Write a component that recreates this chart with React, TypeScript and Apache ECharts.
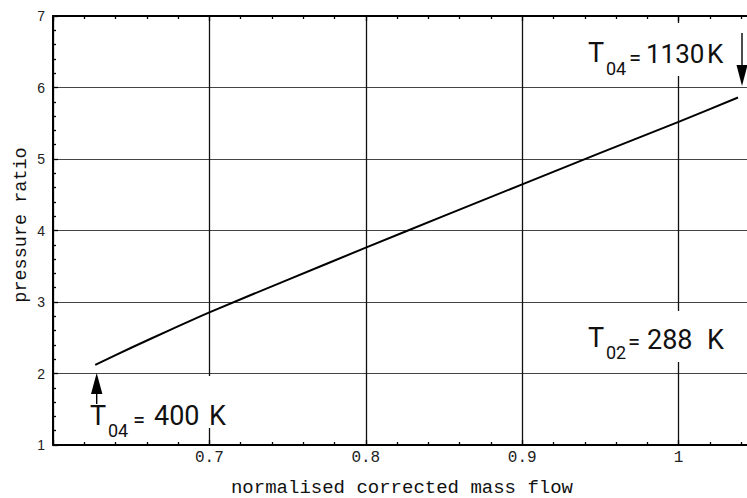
import React, { useEffect, useRef } from "react";
import * as echarts from "echarts";

// Curve: normalised corrected mass flow vs pressure ratio
const massFlow = [0.627, 0.65, 0.675, 0.7, 0.75, 0.8, 0.85, 0.9, 0.95, 1.0, 1.038];
const pressureRatio = [2.12, 2.36, 2.61, 2.855, 3.31, 3.76, 4.205, 4.645, 5.085, 5.52, 5.86];

const xTickValues = [0.7, 0.8, 0.9, 1.0];
const xTickLabels = ["0.7", "0.8", "0.9", "1"];
const yTickValues = [1, 2, 3, 4, 5, 6, 7];
const yTickLabels = ["1", "2", "3", "4", "5", "6", "7"];

const xTitle = "normalised corrected mass flow";
const yTitle = "pressure ratio";

const MONO = "'Liberation Mono', 'DejaVu Sans Mono', monospace";
const SANS = "'Liberation Sans', Arial, sans-serif";
const ANN = "Roboto, 'Liberation Sans', sans-serif";

function lookup(v: number, vals: number[], labels: string[]) {
  for (let i = 0; i < vals.length; i++) {
    if (Math.abs(v - vals[i]) < 1e-6) return labels[i];
  }
  return "";
}

function annText(x: number, y: number, text: string, size: number) {
  return {
    type: "text",
    x,
    y,
    z: 11,
    style: {
      text,
      fontFamily: ANN,
      fontSize: size,
      fill: "#111",
      align: "left",
      verticalAlign: "middle",
    },
  };
}

function whiteBox(x: number, y: number, w: number, h: number) {
  return {
    type: "rect",
    z: 10,
    shape: { x, y, width: w, height: h },
    style: { fill: "#fff" },
  };
}

export default function App() {
  const ref = useRef<HTMLDivElement>(null);
  useEffect(() => {
    if (!ref.current) return;
    const chart = echarts.init(ref.current, undefined, { renderer: "svg" });
    const data = massFlow.map((x, i) => [x, pressureRatio[i]]);
    const axisLine = { show: true, onZero: false, lineStyle: { color: "#000", width: 2 } };
    const axisTick = { show: true, inside: true, length: 5, lineStyle: { color: "#000", width: 1.3 } };
    const minorTick = { show: true, splitNumber: 5, length: 3, lineStyle: { color: "#000", width: 1.3 } };
    const option: any = {
      animation: false,
      backgroundColor: "#fff",
      grid: { left: 53, top: 16, width: 782, height: 429 },
      xAxis: [
        {
          type: "value",
          position: "bottom",
          min: 0.6,
          max: 1.1,
          interval: 0.1,
          axisLine,
          axisTick,
          minorTick,
          axisLabel: {
            margin: 5,
            fontFamily: MONO,
            fontSize: 16,
            color: "#222",
            formatter: (v: number) => lookup(v, xTickValues, xTickLabels),
          },
          splitLine: { show: true, lineStyle: { color: "#111", width: 1.3 } },
        },
        {
          type: "value",
          position: "top",
          min: 0.6,
          max: 1.1,
          interval: 0.1,
          axisLine,
          axisTick,
          minorTick,
          axisLabel: { show: false },
          splitLine: { show: false },
        },
      ],
      yAxis: {
        type: "value",
        min: 1,
        max: 7,
        interval: 1,
        axisLine,
        axisTick,
        minorTick,
        axisLabel: {
          margin: 8,
          fontFamily: SANS,
          fontSize: 14,
          color: "#222",
          formatter: (v: number) => lookup(v, yTickValues, yTickLabels),
        },
        splitLine: { show: true, lineStyle: { color: "#444", width: 1.2 } },
      },
      series: [
        {
          type: "line",
          xAxisIndex: 0,
          data,
          smooth: 0.3,
          showSymbol: false,
          lineStyle: { color: "#000", width: 2 },
          z: 5,
        },
      ],
      graphic: [
        // white boxes that interrupt grid lines behind labels
        whiteBox(584, 23, 146, 53),
        whiteBox(86, 376, 148, 52),
        whiteBox(584, 311, 142, 51),
        // top-right label T04 = 1130 K
        annText(588, 53, "T", 27),
        annText(606, 68, "04", 18),
        annText(629, 57, "=", 22),
        annText(646, 54, "1130", 26),
        annText(707, 54, "K", 26),
        // bottom-left label T04 = 400 K
        annText(90, 416, "T", 27),
        annText(108, 430, "04", 18),
        annText(133, 419, "=", 22),
        annText(154, 416, "400", 27),
        annText(209, 416, "K", 27),
        // T02 = 288 K
        annText(588, 338, "T", 27),
        annText(606, 352, "02", 18),
        annText(628, 341, "=", 22),
        annText(647, 340, "288", 27),
        annText(707, 340, "K", 27),
        // arrows
        {
          type: "line",
          z: 12,
          shape: { x1: 96.7, y1: 392, x2: 96.7, y2: 404 },
          style: { stroke: "#000", lineWidth: 1.4 },
        },
        {
          type: "polygon",
          z: 12,
          shape: { points: [[96.7, 373], [91, 394], [102.4, 394]] },
          style: { fill: "#000" },
        },
        {
          type: "line",
          z: 12,
          shape: { x1: 742, y1: 33, x2: 742, y2: 67 },
          style: { stroke: "#000", lineWidth: 1.4 },
        },
        {
          type: "polygon",
          z: 12,
          shape: { points: [[742, 86], [736.5, 65], [747.5, 65]] },
          style: { fill: "#000" },
        },
        // axis titles
        {
          type: "text",
          x: 402,
          y: 488,
          z: 11,
          style: {
            text: xTitle,
            fontFamily: MONO,
            fontSize: 19,
            fill: "#111",
            align: "center",
            verticalAlign: "middle",
          },
        },
        {
          type: "text",
          x: 21,
          y: 225,
          rotation: Math.PI / 2,
          z: 11,
          style: {
            text: yTitle,
            fontFamily: MONO,
            fontSize: 18.5,
            fill: "#111",
            align: "center",
            verticalAlign: "middle",
          },
        },
      ],
    };
    chart.setOption(option);
    return () => chart.dispose();
  }, []);

  return (
    <div
      style={{
        position: "fixed",
        left: 0,
        top: 0,
        width: 747,
        height: 498,
        overflow: "hidden",
        background: "#fff",
      }}
    >
      <div ref={ref} style={{ width: 840, height: 498 }} />
    </div>
  );
}
